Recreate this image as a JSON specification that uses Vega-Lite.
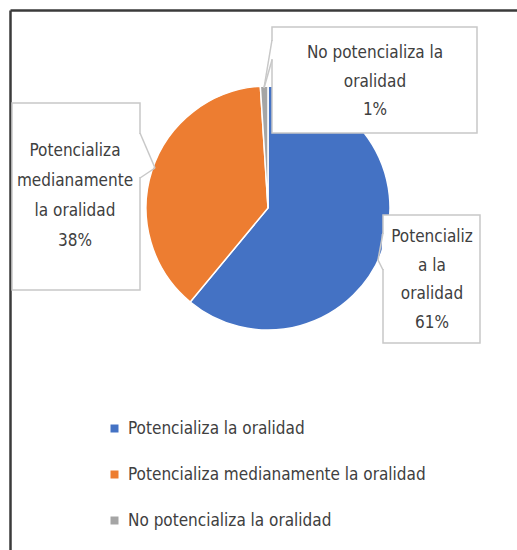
{
  "$schema": "https://vega.github.io/schema/vega-lite/v6.json",
  "width": 507,
  "height": 540,
  "autosize": {"type": "none"},
  "padding": {"left": 10, "top": 10, "right": 0, "bottom": 0},
  "background": "white",
  "config": {
    "view": {"stroke": null},
    "font": "Liberation Sans Narrow, DejaVu Sans Condensed, sans-serif",
    "axis": {"ticks": false, "labels": false, "title": null, "grid": false, "domainColor": "#3A3A3A", "domainWidth": 2.5}
  },
  "data": {
    "values": [
      {"categoria": "Potencializa la oralidad", "porcentaje": 61, "orden": 1, "etiqueta": "Potencializ\na la\noralidad\n61%"},
      {"categoria": "Potencializa medianamente la oralidad", "porcentaje": 38, "orden": 2, "etiqueta": "Potencializa\nmedianamente\nla oralidad\n38%"},
      {"categoria": "No potencializa la oralidad", "porcentaje": 1, "orden": 3, "etiqueta": "No potencializa la\noralidad\n1%"}
    ]
  },
  "layer": [
    {
      "mark": {"type": "arc", "outerRadius": 122, "stroke": "white", "strokeWidth": 1.5},
      "encoding": {
        "theta": {"field": "porcentaje", "type": "quantitative", "stack": true},
        "order": {"field": "orden", "type": "quantitative"},
        "color": {
          "field": "categoria",
          "type": "nominal",
          "scale": {
            "domain": ["Potencializa la oralidad", "Potencializa medianamente la oralidad", "No potencializa la oralidad"],
            "range": ["#4472C4", "#ED7D31", "#A5A5A5"]
          },
          "legend": {
            "orient": "none",
            "legendX": 96,
            "legendY": 410,
            "direction": "vertical",
            "title": null,
            "symbolType": "square",
            "symbolSize": 64,
            "symbolStrokeWidth": 0,
            "labelFontSize": 17,
            "labelColor": "#404040",
            "rowPadding": 28,
            "labelOffset": 5,
            "padding": 0,
            "labelLimit": 0
          }
        },
        "x": {"datum": 258, "type": "quantitative", "scale": {"domain": [0, 507], "nice": false, "zero": false}, "axis": {"orient": "top"}},
        "y": {"datum": 198, "type": "quantitative", "scale": {"domain": [0, 540], "nice": false, "zero": false, "reverse": true}, "axis": {"orient": "left"}}
      }
    },
    {
      "transform": [{"filter": "datum.orden == 3"}],
      "layer": [
        {
          "mark": {"type": "rect", "fill": "white", "stroke": "#C8C8C8", "strokeWidth": 1.5},
          "encoding": {"x": {"datum": 262, "type": "quantitative"}, "x2": {"datum": 467}, "y": {"datum": 17, "type": "quantitative"}, "y2": {"datum": 123}}
        },
        {
          "mark": {"type": "rule", "stroke": "white", "strokeWidth": 2.5},
          "encoding": {"x": {"datum": 262, "type": "quantitative"}, "x2": {"datum": 262}, "y": {"datum": 31, "type": "quantitative"}, "y2": {"datum": 49}}
        },
        {
          "mark": {"type": "rule", "stroke": "#C8C8C8", "strokeWidth": 1.5},
          "encoding": {"x": {"datum": 262, "type": "quantitative"}, "x2": {"datum": 254}, "y": {"datum": 30, "type": "quantitative"}, "y2": {"datum": 78}}
        },
        {
          "mark": {"type": "rule", "stroke": "#C8C8C8", "strokeWidth": 1.5},
          "encoding": {"x": {"datum": 254, "type": "quantitative"}, "x2": {"datum": 262}, "y": {"datum": 78, "type": "quantitative"}, "y2": {"datum": 50}}
        },
        {
          "mark": {"type": "text", "fontSize": 17, "color": "#404040", "lineBreak": "\n", "lineHeight": 28.5, "align": "center", "baseline": "middle"},
          "encoding": {"x": {"datum": 365, "type": "quantitative"}, "y": {"datum": 43, "type": "quantitative"}, "text": {"field": "etiqueta"}}
        }
      ]
    },
    {
      "transform": [{"filter": "datum.orden == 2"}],
      "layer": [
        {
          "mark": {"type": "rect", "fill": "white", "stroke": "#C8C8C8", "strokeWidth": 1.5},
          "encoding": {"x": {"datum": 2, "type": "quantitative"}, "x2": {"datum": 130}, "y": {"datum": 93, "type": "quantitative"}, "y2": {"datum": 280}}
        },
        {
          "mark": {"type": "rule", "stroke": "white", "strokeWidth": 2.5},
          "encoding": {"x": {"datum": 130, "type": "quantitative"}, "x2": {"datum": 130}, "y": {"datum": 124, "type": "quantitative"}, "y2": {"datum": 167}}
        },
        {
          "mark": {"type": "rule", "stroke": "#C8C8C8", "strokeWidth": 1.5},
          "encoding": {"x": {"datum": 130, "type": "quantitative"}, "x2": {"datum": 145}, "y": {"datum": 123, "type": "quantitative"}, "y2": {"datum": 158}}
        },
        {
          "mark": {"type": "rule", "stroke": "#C8C8C8", "strokeWidth": 1.5},
          "encoding": {"x": {"datum": 145, "type": "quantitative"}, "x2": {"datum": 130}, "y": {"datum": 158, "type": "quantitative"}, "y2": {"datum": 168}}
        },
        {
          "mark": {"type": "text", "fontSize": 17, "color": "#404040", "lineBreak": "\n", "lineHeight": 30, "align": "center", "baseline": "middle"},
          "encoding": {"x": {"datum": 65, "type": "quantitative"}, "y": {"datum": 141, "type": "quantitative"}, "text": {"field": "etiqueta"}}
        }
      ]
    },
    {
      "transform": [{"filter": "datum.orden == 1"}],
      "layer": [
        {
          "mark": {"type": "rect", "fill": "white", "stroke": "#C8C8C8", "strokeWidth": 1.5},
          "encoding": {"x": {"datum": 373, "type": "quantitative"}, "x2": {"datum": 470}, "y": {"datum": 205, "type": "quantitative"}, "y2": {"datum": 333}}
        },
        {
          "mark": {"type": "rule", "stroke": "white", "strokeWidth": 2.5},
          "encoding": {"x": {"datum": 373, "type": "quantitative"}, "x2": {"datum": 373}, "y": {"datum": 224, "type": "quantitative"}, "y2": {"datum": 259}}
        },
        {
          "mark": {"type": "rule", "stroke": "#C8C8C8", "strokeWidth": 1.5},
          "encoding": {"x": {"datum": 373, "type": "quantitative"}, "x2": {"datum": 368}, "y": {"datum": 223, "type": "quantitative"}, "y2": {"datum": 250}}
        },
        {
          "mark": {"type": "rule", "stroke": "#C8C8C8", "strokeWidth": 1.5},
          "encoding": {"x": {"datum": 368, "type": "quantitative"}, "x2": {"datum": 373}, "y": {"datum": 250, "type": "quantitative"}, "y2": {"datum": 260}}
        },
        {
          "mark": {"type": "text", "fontSize": 17, "color": "#404040", "lineBreak": "\n", "lineHeight": 28.5, "align": "center", "baseline": "middle"},
          "encoding": {"x": {"datum": 422, "type": "quantitative"}, "y": {"datum": 227, "type": "quantitative"}, "text": {"field": "etiqueta"}}
        }
      ]
    }
  ]
}
